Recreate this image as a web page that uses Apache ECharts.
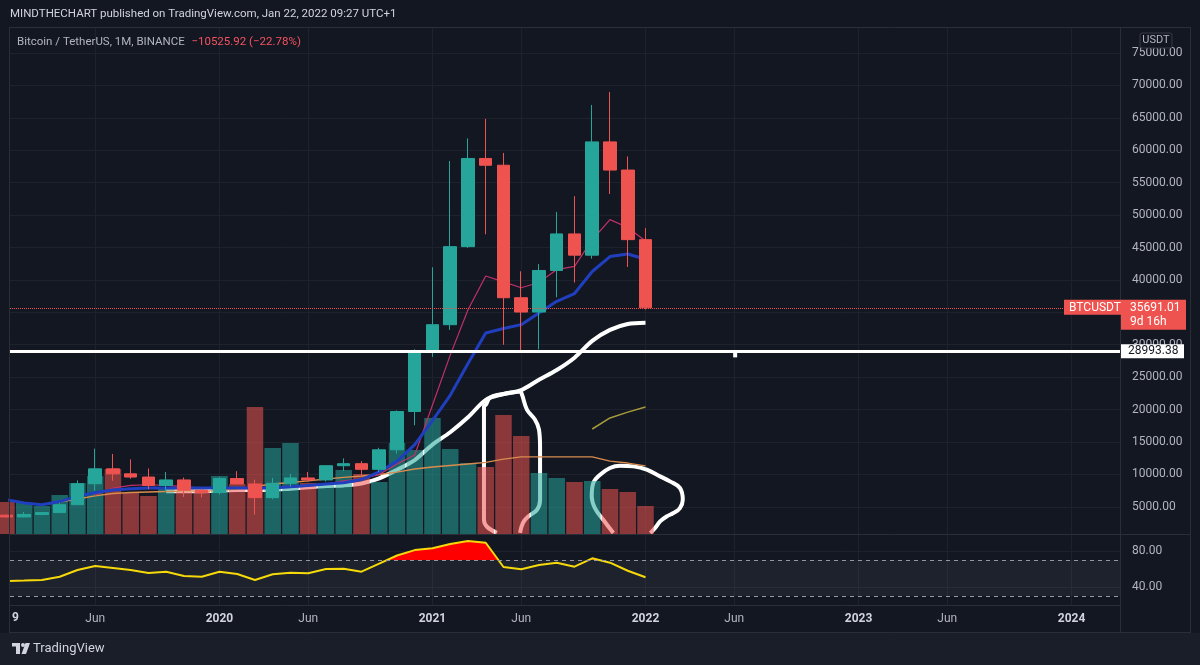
<!DOCTYPE html>
<html>
<head>
<meta charset="utf-8">
<script src="https://cdn.jsdelivr.net/npm/echarts@6/dist/echarts.min.js"></script>
<style>
  html, body { margin: 0; padding: 0; background: #131722; }
  #chart { width: 1200px; height: 665px; }
</style>
</head>
<body>
<div id="chart"></div>
<script>
// BTCUSDT monthly, Jan 2019 .. Jan 2022 (index 0 = 2019-01)
const months = ['2019-01','2019-02','2019-03','2019-04','2019-05','2019-06','2019-07','2019-08','2019-09','2019-10','2019-11','2019-12',
  '2020-01','2020-02','2020-03','2020-04','2020-05','2020-06','2020-07','2020-08','2020-09','2020-10','2020-11','2020-12',
  '2021-01','2021-02','2021-03','2021-04','2021-05','2021-06','2021-07','2021-08','2021-09','2021-10','2021-11','2021-12','2022-01']
const open = [3701.23, 3434.10, 3814.26, 4102.44, 5321.94, 8555.00, 10854.15, 10080.53, 9588.74, 8289.97, 9140.86, 7540.63,
  7195.24, 9351.71, 8523.61, 6412.14, 8620.00, 9448.27, 9138.08, 11335.46, 11649.51, 10776.59, 13791.00, 19695.87,
  28923.63, 33092.97, 45134.11, 58739.46, 57697.25, 37253.82, 35045.00, 41461.84, 47100.89, 43820.01, 61299.81, 56950.56, 46216.93]
const close = [3434.10, 3813.69, 4103.95, 5320.81, 8555.00, 10854.10, 10080.53, 9587.47, 8289.34, 9140.85, 7541.89, 7195.23,
  9352.89, 8523.61, 6410.44, 8620.00, 9448.27, 9138.55, 11335.46, 11649.51, 10776.59, 13791.00, 19695.87, 28923.63,
  33092.98, 45135.66, 58740.55, 57694.27, 37253.81, 35045.00, 41461.83, 47100.89, 43824.10, 61299.80, 56950.56, 46216.93, 35691.01]
const high = [3810.16, 4198.00, 4140.00, 5600.00, 9074.26, 13970.00, 13147.08, 12325.00, 10905.87, 10370.00, 9513.00, 7750.00,
  9578.00, 10500.00, 9188.00, 9460.00, 10067.00, 10380.00, 11444.00, 12468.00, 12050.85, 14100.00, 19863.16, 29300.00,
  41950.00, 58352.80, 61844.00, 64854.00, 59592.20, 41330.00, 42448.00, 50500.00, 52920.00, 67000.00, 69000.00, 59053.55, 47990.00]
const low = [3349.92, 3373.10, 3670.69, 4067.00, 5316.20, 7444.58, 9010.00, 9320.00, 7710.00, 7300.00, 6515.00, 6435.00,
  6871.04, 8445.00, 3782.13, 6150.11, 8117.00, 8833.00, 8893.03, 10518.50, 9825.00, 10374.00, 13195.05, 17572.33,
  28130.00, 32296.16, 44950.53, 47044.01, 30000.00, 28805.00, 29278.00, 37332.70, 39600.00, 43283.03, 53256.64, 42000.30, 35440.45]
// volume, thousand BTC
const volume = [529, 513, 463, 645, 844, 959, 1075, 678, 629, 761, 695, 711,
  959, 827, 2101, 1422, 1505, 844, 844, 1059, 992, 860, 1505, 1389,
  1919, 1406, 1174, 1108, 1968, 1621, 1009, 926, 860, 877, 744, 695, 463]
const volumeMa = [null, null, 480, 529, 579, 629, 670, 686, 695, 703, 711, 711,
  719, 744, 786, 827, 852, 877, 910, 935, 959, 984, 1025, 1075,
  1108, 1133, 1158, 1183, 1240, 1274, 1274, 1274, 1274, 1274, 1207, 1174, 1125]
// moving averages on price (USDT)
const maBlue = [6100, 5600, 5300, 5800, 6600, 7200, 7600, 7800, 7900, 7900, 7900, 7900,
  7900, 7900, 7900, 7900, 8100, 8300, 8500, 8700, 9200, 10400, 12000, 14600,
  18300, 22200, 27100, 31800, 32500, 33100, 34900, 36700, 37900, 41300, 43600, 44000, 43200]
const maPink = [null, null, null, null, null, 6800, 7900, 8300, 8400, 8300, 8100, 7900,
  7900, 7900, 7700, 7900, 8000, 8200, 8500, 9000, 9300, 10000, 11600, 13000,
  20700, 28400, 35400, 40600, 39700, 38800, 39600, 41600, 42100, 46200, 49300, 48100, 46000]
const maOlive = [null, null, null, null, null, null, null, null, null, null, null, null,
  null, null, null, null, null, null, null, null, null, null, null, null,
  null, null, null, null, null, null, null, null, null, 17000, 18700, 19600, 20400]
// hand drawn curve
const whiteCurve = [null, null, null, null, null, null, null, null, null, 7400, 7400, 7400,
  7500, 7600, 7600, 7600, 7800, 8000, 8200, 8300, 8600, 9400, 10700, 12200,
  14600, 16500, 18800, 21500, 22400, 23000, 24600, 26100, 28000, 30600, 32300, 33200, 33400]
const loopMay = [[28.93, 989], [29.10, 2535], [29.38, 3462], [29.89, 4544], [30.06, 6090], [30.06, 14281], [30.00, 16909],
  [29.77, 18454], [29.32, 20000], [29.04, 22318], [28.93, 22782], [28.54, 22628], [27.80, 22318], [27.24, 21855],
  [27.01, 20773], [26.90, 20464], [26.90, 2998], [27.07, 1916], [27.63, 989]]
const loopDec = [[34.19, 943], [33.62, 2998], [33.15, 4807], [32.97, 6600], [33.06, 8671], [33.44, 9954], [34.00, 10989],
  [34.56, 11345], [35.31, 11236], [36.07, 10726], [36.82, 9691], [37.38, 8918], [37.94, 7898], [38.10, 6090],
  [37.94, 4807], [37.57, 4034], [37.19, 3509], [36.82, 2736], [36.54, 1716], [36.27, 943]]
const stub = [[41.05, 28993.38], [41.05, 28050]]
const levelPrice = 28993.38
const lastPrice = 35691.01
const rsi = [46.7, 47.2, 47.8, 51.4, 58.9, 63.3, 61.1, 58.9, 55.6, 57.0, 52.2, 51.4,
  57.0, 54.4, 47.8, 54.1, 55.9, 55.2, 60.0, 60.3, 57.0, 66.0, 75.0, 81.0,
  83.0, 87.8, 91.1, 89.2, 62.2, 59.7, 64.4, 67.0, 62.6, 71.9, 67.0, 58.1, 50.8]
const rsiUpper = 70
const rsiLower = 30
const tickMonths = [0, 5, 12, 17, 24, 29, 36, 41, 48, 53, 60]
const tickLabels = ['2019', 'Jun', '2020', 'Jun', '2021', 'Jun', '2022', 'Jun', '2023', 'Jun', '2024']
const priceTicks = [5000, 10000, 15000, 20000, 25000, 30000, 35000, 40000, 45000, 50000, 55000, 60000, 65000, 70000, 75000]
const rsiTicks = [40, 80]

const FONT = 'Roboto, "Liberation Sans", sans-serif'
const UP = '#26a69a'
const DOWN = '#ef5350'
const GRIDLINE = '#1e222d'
const X_MIN = 0.2
const X_MAX = 62.73

const idx = months.map((m, i) => i)
const pairs = arr => idx.map(i => [i, arr[i]])

// rsi clipped at the upper band, with the crossing points added
let rsiOver = []
rsi.forEach((v, i) => {
  rsiOver.push([i, Math.max(v, rsiUpper)])
  let n = rsi[i + 1]
  if (n !== undefined && (v - rsiUpper) * (n - rsiUpper) < 0) {
    rsiOver.push([i + (rsiUpper - v) / (n - v), rsiUpper])
  }
})

let chart = echarts.init(document.getElementById('chart'))

function xAxisFor (gridIndex, showLabels) {
  return {
    type: 'value',
    gridIndex: gridIndex,
    min: X_MIN,
    max: X_MAX,
    axisLine: { show: showLabels, lineStyle: { color: '#2a2e39' } },
    axisTick: { show: false, customValues: tickMonths },
    splitLine: { show: gridIndex !== 1, lineStyle: { color: GRIDLINE } },
    axisLabel: {
      show: showLabels,
      customValues: tickMonths,
      margin: 8,
      fontFamily: FONT,
      fontSize: 12,
      formatter (v) {
        let k = tickMonths.indexOf(Math.round(v))
        if (k < 0) return ''
        return tickLabels[k] === 'Jun' ? '{m|Jun}' : '{y|' + tickLabels[k] + '}'
      },
      rich: {
        m: { color: '#b2b5be', fontFamily: FONT, fontSize: 12 },
        y: { color: '#d1d4dc', fontFamily: FONT, fontSize: 12, fontWeight: 'bold' }
      }
    }
  }
}

let series = [
  // drawings (under the volume)
  { type: 'line', xAxisIndex: 0, yAxisIndex: 0, data: pairs(whiteCurve), smooth: 0.3, showSymbol: false,
    lineStyle: { color: '#ffffff', width: 4 }, z: 1, silent: true },
  { type: 'line', xAxisIndex: 0, yAxisIndex: 0, data: loopMay, smooth: 0.4, showSymbol: false,
    lineStyle: { color: '#ffffff', width: 4 }, z: 1, silent: true },
  { type: 'line', xAxisIndex: 0, yAxisIndex: 0, data: loopDec, smooth: 0.4, showSymbol: false,
    lineStyle: { color: '#ffffff', width: 4 }, z: 1, silent: true },
  // volume
  { type: 'bar', xAxisIndex: 1, yAxisIndex: 1, barWidth: 16.5, z: 2,
    data: idx.map(i => [i, volume[i]]),
    itemStyle: {
      color (p) {
        return close[p.dataIndex] >= open[p.dataIndex] ? 'rgba(38,166,154,0.55)' : 'rgba(239,83,80,0.55)'
      }
    } },
  { type: 'line', xAxisIndex: 1, yAxisIndex: 1, data: pairs(volumeMa), showSymbol: false,
    lineStyle: { color: '#d98c4e', width: 1.3 }, z: 3 },
  // price MAs
  { type: 'line', xAxisIndex: 0, yAxisIndex: 0, data: pairs(maOlive), showSymbol: false,
    lineStyle: { color: '#a89b3c', width: 1.5 }, z: 3 },
  { type: 'line', xAxisIndex: 0, yAxisIndex: 0, data: pairs(maPink), showSymbol: false,
    lineStyle: { color: '#c2306a', width: 1.2 }, z: 3 },
  { type: 'line', xAxisIndex: 0, yAxisIndex: 0, data: pairs(maBlue), showSymbol: false,
    lineStyle: { color: '#1f3fbf', width: 3 }, z: 3 },
  // candles
  { type: 'candlestick', xAxisIndex: 0, yAxisIndex: 0, barWidth: 13, z: 4,
    encode: { x: 0, y: [1, 2, 3, 4] },
    data: idx.map(i => [i, open[i], close[i], low[i], high[i]]),
    itemStyle: { color: UP, color0: DOWN, borderColor: UP, borderColor0: DOWN, borderWidth: 1 },
    markLine: {
      silent: true, symbol: ['none', 'none'], label: { show: false },
      lineStyle: { color: DOWN, type: 'dotted', width: 1 },
      data: [{ yAxis: lastPrice }]
    } },
  // horizontal level + its anchor tick
  { type: 'line', xAxisIndex: 0, yAxisIndex: 0, data: stub, showSymbol: false,
    lineStyle: { color: '#ffffff', width: 4 }, z: 5,
    markLine: {
      silent: true, symbol: ['none', 'none'], label: { show: false },
      lineStyle: { color: '#ffffff', type: 'solid', width: 3 },
      data: [{ yAxis: levelPrice }]
    } },
  // RSI overbought fill, from the band up to the line
  { type: 'line', xAxisIndex: 2, yAxisIndex: 2, data: rsiOver, showSymbol: false,
    lineStyle: { width: 0, opacity: 0 }, areaStyle: { color: '#ff0000', opacity: 1, origin: rsiUpper }, z: 2, silent: true },
  // RSI line
  { type: 'line', xAxisIndex: 2, yAxisIndex: 2, data: pairs(rsi), showSymbol: false,
    lineStyle: { color: '#f5d90a', width: 2 }, z: 3,
    markArea: { silent: true, itemStyle: { color: 'rgba(178,181,190,0.07)' },
      data: [[{ xAxis: X_MIN, yAxis: rsiLower }, { xAxis: X_MAX, yAxis: rsiUpper }]] },
    markLine: {
      silent: true, symbol: ['none', 'none'], label: { show: false },
      lineStyle: { color: '#9598a1', type: [4, 4], width: 1 },
      data: [{ yAxis: rsiUpper }, { yAxis: rsiLower }]
    } }
]

let option = {
  backgroundColor: '#131722',
  animation: false,
  textStyle: { fontFamily: FONT },
  grid: [
    { left: 10, right: 80, top: 28, height: 506 },
    { left: 10, right: 80, top: 28, height: 506 },
    { left: 10, right: 80, top: 534, height: 71 }
  ],
  xAxis: [xAxisFor(0, false), xAxisFor(1, false), xAxisFor(2, true)],
  yAxis: [
    { type: 'value', gridIndex: 0, position: 'right', min: 800, max: 78870,
      axisLine: { show: false }, axisTick: { show: false, customValues: priceTicks },
      splitLine: { lineStyle: { color: GRIDLINE } },
      axisLabel: { customValues: priceTicks, margin: 12, color: '#b2b5be', fontFamily: FONT, fontSize: 12,
        formatter: v => v.toFixed(2) } },
    { type: 'value', gridIndex: 1, min: 0, max: 8369, show: false },
    { type: 'value', gridIndex: 2, position: 'right', min: 20, max: 98.9,
      axisLine: { show: false }, axisTick: { show: false, customValues: rsiTicks },
      splitLine: { lineStyle: { color: GRIDLINE } },
      axisLabel: { customValues: rsiTicks, margin: 12, color: '#b2b5be', fontFamily: FONT, fontSize: 12,
        formatter: v => v.toFixed(2) } }
  ],
  series: series
}

chart.setOption(option)

// labels pinned to the price scale
let yLast = chart.convertToPixel({ yAxisIndex: 0 }, lastPrice)
let yLevel = chart.convertToPixel({ yAxisIndex: 0 }, levelPrice)

function txt (text, x, y, fill, size, weight) {
  return { type: 'text', z: 20, style: { text: text, x: x, y: y, fill: fill,
    font: (weight || 'normal') + ' ' + (size || 12) + 'px ' + FONT, textVerticalAlign: 'middle' } }
}
function hline (x1, x2, y) {
  return { type: 'line', z: 15, shape: { x1: x1, y1: y, x2: x2, y2: y }, style: { stroke: '#2a2e39', lineWidth: 1 } }
}
function vline (x, y1, y2) {
  return { type: 'line', z: 15, shape: { x1: x, y1: y1, x2: x, y2: y2 }, style: { stroke: '#2a2e39', lineWidth: 1 } }
}

let usdt = txt('USDT', 1156, 40.5, '#b2b5be', 11)
usdt.style.textAlign = 'center'

let legend = {
  type: 'text', z: 20,
  style: {
    text: '{a|Bitcoin / TetherUS, 1M, BINANCE}  {b|\u221210525.92 (\u221222.78%)}',
    x: 17, y: 42, textVerticalAlign: 'middle',
    rich: {
      a: { fill: '#b2b5be', fontFamily: FONT, fontSize: 11.5 },
      b: { fill: '#f7525f', fontFamily: FONT, fontSize: 11.5 }
    }
  }
}

chart.setOption({
  graphic: [
    // frame
    hline(9, 1191, 27.5), hline(9, 1191, 534.5), hline(9, 1191, 632.5),
    vline(9.5, 27, 632), vline(1120.5, 27, 632), vline(1190.5, 27, 632),
    { type: 'rect', z: 14, shape: { x: 0, y: 633, width: 1200, height: 32 }, style: { fill: '#1a1e29' } },
    // header + legend
    txt('MINDTHECHART published on TradingView.com, Jan 22, 2022 09:27 UTC+1', 10, 14, '#d1d4dc', 11.5),
    legend,
    // currency badge
    { type: 'rect', z: 20, shape: { x: 1140, y: 33, width: 32, height: 15, r: 2 }, style: { fill: '#131722', stroke: '#363a45', lineWidth: 1 } },
    usdt,
    // last price
    { type: 'rect', z: 19, shape: { x: 1064, y: yLast - 8, width: 57, height: 15 }, style: { fill: DOWN } },
    txt('BTCUSDT', 1069, yLast, '#ffffff', 12),
    { type: 'rect', z: 19, shape: { x: 1121, y: yLast - 8, width: 65, height: 30 }, style: { fill: DOWN } },
    txt('35691.01', 1130, yLast, '#ffffff', 12),
    txt('9d 16h', 1130, yLast + 14, '#ffffff', 12),
    // level
    { type: 'rect', z: 19, shape: { x: 1121, y: yLevel - 7, width: 63, height: 14 }, style: { fill: '#ffffff' } },
    txt('28993.38', 1128, yLevel, '#131722', 12),
    // clipped first time label
    txt('9', 12, 618, '#d1d4dc', 12, 'bold'),
    // footer logo
    { type: 'rect', z: 20, shape: { x: 12, y: 643, width: 8, height: 3.5 }, style: { fill: '#d1d4dc' } },
    { type: 'rect', z: 20, shape: { x: 16, y: 643, width: 4, height: 11 }, style: { fill: '#d1d4dc' } },
    { type: 'circle', z: 20, shape: { cx: 23, cy: 645, r: 2 }, style: { fill: '#d1d4dc' } },
    { type: 'polygon', z: 20, shape: { points: [[25.5, 643], [30, 643], [26, 654], [21.5, 654]] }, style: { fill: '#d1d4dc' } },
    txt('TradingView', 33, 648.5, '#d1d4dc', 13)
  ]
})
</script>
</body>
</html>
